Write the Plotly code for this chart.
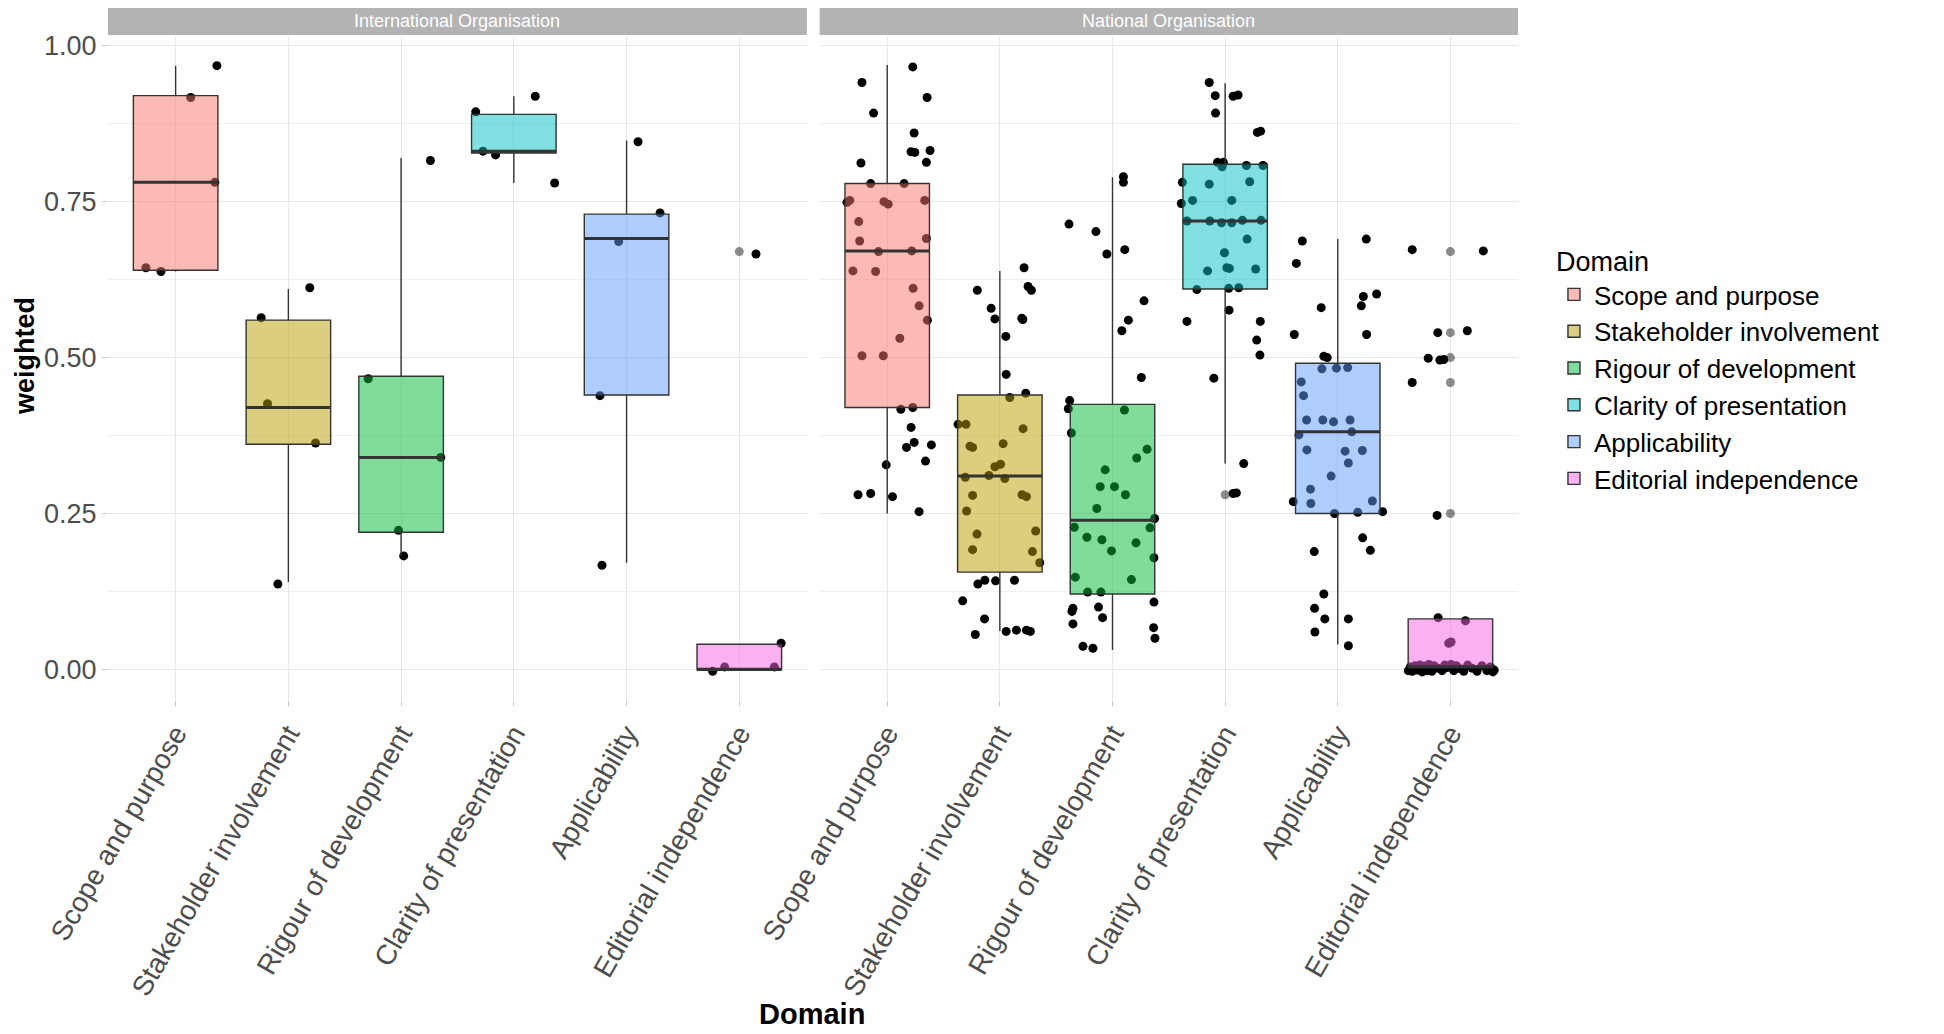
import plotly.graph_objects as go

FONT = "Liberation Sans, Arial, sans-serif"

domains = ["Scope and purpose", "Stakeholder involvement", "Rigour of development",
           "Clarity of presentation", "Applicability", "Editorial independence"]
fills = ["rgba(248,118,109,0.5)", "rgba(183,159,0,0.5)", "rgba(0,186,56,0.5)",
         "rgba(0,191,196,0.5)", "rgba(97,156,255,0.5)", "rgba(245,100,227,0.5)"]
facets = ["International Organisation", "National Organisation"]

# ---- International Organisation: box statistics
intl_q1 = [0.640, 0.361, 0.220, 0.828, 0.440, 0.000]
intl_median = [0.781, 0.420, 0.340, 0.831, 0.691, 0.000]
intl_q3 = [0.920, 0.560, 0.470, 0.890, 0.730, 0.0405]
intl_lower = [0.638, 0.140, 0.182, 0.780, 0.171, 0.000]
intl_upper = [0.968, 0.610, 0.820, 0.919, 0.848, 0.0405]
intl_outliers = [[], [], [], [], [], [0.670]]

# jittered points: weighted score and horizontal jitter (category units)
intl_y = [
    [0.968, 0.917, 0.781, 0.644, 0.638],
    [0.612, 0.564, 0.426, 0.363, 0.137],
    [0.816, 0.466, 0.340, 0.223, 0.182],
    [0.919, 0.894, 0.831, 0.825, 0.780],
    [0.846, 0.732, 0.686, 0.439, 0.167],
    [0.666, 0.042, -0.003, 0.004, 0.004],
]
intl_jitter = [
    [0.366, 0.134, 0.348, -0.264, -0.130],
    [0.190, -0.241, -0.185, 0.241, -0.093],
    [0.260, -0.292, 0.352, -0.023, 0.023],
    [0.190, -0.338, -0.274, -0.162, 0.362],
    [0.102, 0.297, -0.070, -0.236, -0.218],
    [0.148, 0.371, -0.236, -0.130, 0.311],
]

# ---- National Organisation
nat_q1 = [0.420, 0.156, 0.121, 0.610, 0.250, 0.004]
nat_median = [0.671, 0.310, 0.239, 0.719, 0.381, 0.004]
nat_q3 = [0.779, 0.440, 0.425, 0.810, 0.491, 0.081]
nat_lower = [0.250, 0.0615, 0.031, 0.330, 0.040, 0.004]
nat_upper = [0.969, 0.639, 0.789, 0.940, 0.690, 0.081]
nat_outliers = [[], [], [], [0.280], [], [0.670, 0.540, 0.500, 0.460, 0.250]]

nat_y = [
    [0.966, 0.941, 0.917, 0.892, 0.860, 0.830, 0.829, 0.832, 0.812, 0.813, 0.779, 0.779, 0.749, 0.752,
     0.750, 0.746, 0.752, 0.718, 0.687, 0.691, 0.670, 0.671, 0.639, 0.638, 0.611, 0.583, 0.560, 0.531,
     0.503, 0.503, 0.417, 0.420, 0.388, 0.356, 0.364, 0.360, 0.328, 0.334, 0.280, 0.282, 0.277, 0.253],
    [0.644, 0.608, 0.614, 0.608, 0.579, 0.562, 0.563, 0.561, 0.534, 0.473, 0.436, 0.443, 0.393, 0.393,
     0.386, 0.358, 0.356, 0.362, 0.325, 0.329, 0.308, 0.311, 0.306, 0.279, 0.280, 0.277, 0.254, 0.217,
     0.222, 0.192, 0.189, 0.171, 0.137, 0.143, 0.142, 0.143, 0.110, 0.081, 0.056, 0.061, 0.063, 0.063, 0.061],
    [0.790, 0.781, 0.714, 0.702, 0.666, 0.673, 0.591, 0.560, 0.543, 0.468, 0.431, 0.418, 0.416, 0.379,
     0.353, 0.339, 0.320, 0.293, 0.293, 0.280, 0.258, 0.242, 0.228, 0.227, 0.212, 0.208, 0.190, 0.203,
     0.179, 0.148, 0.144, 0.124, 0.124, 0.108, 0.098, 0.093, 0.100, 0.083, 0.073, 0.067, 0.050, 0.037, 0.034],
    [0.941, 0.920, 0.919, 0.921, 0.892, 0.861, 0.863, 0.813, 0.813, 0.806, 0.808, 0.808, 0.781, 0.778,
     0.782, 0.747, 0.752, 0.752, 0.719, 0.719, 0.716, 0.716, 0.720, 0.720, 0.690, 0.668, 0.639, 0.644,
     0.643, 0.642, 0.609, 0.611, 0.612, 0.576, 0.558, 0.558, 0.528, 0.504, 0.467, 0.330, 0.282, 0.283],
    [0.687, 0.690, 0.651, 0.598, 0.602, 0.583, 0.580, 0.537, 0.537, 0.502, 0.500, 0.482, 0.483, 0.484,
     0.461, 0.439, 0.400, 0.400, 0.397, 0.400, 0.376, 0.381, 0.352, 0.350, 0.351, 0.331, 0.310, 0.289,
     0.269, 0.266, 0.270, 0.250, 0.252, 0.253, 0.211, 0.189, 0.191, 0.121, 0.098, 0.081, 0.081, 0.060, 0.038],
    [0.673, 0.671, 0.540, 0.543, 0.499, 0.496, 0.497, 0.460, 0.247, 0.083, 0.078, 0.042, 0.044,
     -0.002, 0.004, -0.003, 0.006, -0.001, 0.007, -0.004, 0.005, -0.002, 0.008, -0.003, 0.006, 0.002,
     -0.002, 0.007, 0.003, 0.008, -0.002, 0.006, 0.001, -0.003, 0.007, 0.002, -0.003, 0.006, -0.002,
     0.004, -0.004, -0.001],
]
nat_jitter = [
    [0.227, -0.224, 0.354, -0.121, 0.239, 0.212, 0.245, 0.380, -0.233, 0.348, -0.147, 0.150, -0.357, -0.333,
     -0.029, 0.009, 0.333, -0.253, -0.245, 0.348, -0.077, 0.218, -0.304, -0.103, 0.230, 0.283, 0.357, 0.112,
     -0.224, -0.035, 0.121, 0.227, 0.212, 0.171, 0.239, 0.392, -0.009, 0.340, -0.259, -0.147, 0.047, 0.283],
    [0.215, -0.200, 0.251, 0.280, -0.077, -0.044, 0.195, 0.204, 0.053, 0.056, 0.088, 0.230, -0.371, -0.301,
     0.206, -0.265, -0.242, 0.029, -0.044, 0.006, -0.307, -0.097, 0.044, -0.242, 0.197, 0.236, -0.295, -0.203,
     0.318, -0.242, 0.289, 0.354, -0.195, -0.133, -0.038, 0.130, -0.330, -0.136, -0.218, 0.056, 0.147, 0.236, 0.271],
    [0.097, 0.097, -0.386, -0.147, -0.050, 0.109, 0.280, 0.141, 0.083, 0.256, -0.380, -0.392, 0.106, -0.365,
     0.307, 0.215, -0.065, -0.109, 0.018, 0.115, -0.139, 0.374, -0.339, 0.333, -0.227, -0.094, -0.009, 0.209,
     0.368, -0.330, 0.168, -0.221, -0.103, 0.368, -0.351, -0.360, -0.124, -0.088, -0.351, 0.365, 0.377, -0.262, -0.174],
    [-0.141, -0.088, 0.071, 0.115, -0.085, 0.286, 0.315, -0.068, -0.015, -0.027, 0.189, 0.336, -0.380, -0.141,
     0.218, -0.389, -0.289, 0.059, -0.339, -0.136, -0.032, 0.059, 0.153, 0.318, 0.195, -0.006, -0.156, 0.015,
     0.038, 0.271, -0.251, 0.032, 0.121, 0.035, -0.339, 0.312, 0.280, 0.309, -0.100, 0.165, 0.071, 0.100],
    [-0.315, 0.253, -0.368, 0.227, 0.345, 0.209, -0.147, -0.386, 0.256, -0.124, -0.094, -0.141, -0.012, 0.088,
     -0.324, -0.304, -0.277, -0.133, -0.038, 0.109, -0.345, 0.124, -0.274, 0.065, 0.218, 0.094, -0.059, -0.242,
     -0.395, -0.239, 0.307, -0.029, 0.177, 0.398, 0.221, -0.209, 0.289, -0.124, -0.206, -0.115, 0.094, -0.203, 0.094],
    [-0.339, 0.292, -0.112, 0.150, -0.197, -0.094, -0.059, -0.339, -0.118, -0.109, 0.133, -0.015, 0.006,
     -0.374, -0.356, -0.339, -0.312, -0.295, -0.270, -0.251, -0.230, -0.205, -0.192, -0.165, -0.147, -0.112,
     -0.074, -0.050, -0.029, 0.006, 0.030, 0.053, 0.088, 0.118, 0.153, 0.192, 0.236, 0.280, 0.324, 0.354,
     0.377, 0.389],
]

BOX_W = 0.75
panels = [
    ("x", "y", intl_q1, intl_median, intl_q3, intl_lower, intl_upper, intl_outliers, intl_y, intl_jitter),
    ("x2", "y2", nat_q1, nat_median, nat_q3, nat_lower, nat_upper, nat_outliers, nat_y, nat_jitter),
]

fig = go.Figure()

for p, (xa, ya, q1, med, q3, lo, hi, outl, ys, jit) in enumerate(panels):
    for i, dom in enumerate(domains):
        pos = i + 1
        # jittered points (drawn below the semi-transparent boxes)
        fig.add_trace(go.Scatter(
            x=[pos + d for d in jit[i]], y=ys[i], mode="markers",
            marker=dict(color="black", size=9, line=dict(width=0)),
            xaxis=xa, yaxis=ya, showlegend=False, hoverinfo="skip", zorder=0,
        ))
        fig.add_trace(go.Box(
            x=[pos], q1=[q1[i]], median=[med[i]], q3=[q3[i]],
            lowerfence=[lo[i]], upperfence=[hi[i]],
            orientation="v", width=BOX_W, whiskerwidth=0, boxpoints=False,
            fillcolor=fills[i], line=dict(color="#333333", width=1.4),
            name=dom, showlegend=(p == 0), xaxis=xa, yaxis=ya, zorder=1,
        ))
        # thicker median bar, as in ggplot
        fig.add_trace(go.Scatter(
            x=[pos - BOX_W / 2, pos + BOX_W / 2], y=[med[i], med[i]], mode="lines",
            line=dict(color="#333333", width=3), xaxis=xa, yaxis=ya,
            showlegend=False, hoverinfo="skip", zorder=1,
        ))
        if outl[i]:
            fig.add_trace(go.Scatter(
                x=[pos] * len(outl[i]), y=outl[i], mode="markers",
                marker=dict(color="rgba(0,0,0,0.45)", size=9, line=dict(width=0)),
                xaxis=xa, yaxis=ya, showlegend=False, hoverinfo="skip", zorder=2,
            ))

xcommon = dict(
    range=[0.4, 6.6], tickvals=list(range(1, 7)), ticktext=domains, tickangle=-60,
    tickfont=dict(family=FONT, size=28, color="#4D4D4D"),
    showgrid=True, gridcolor="#E6E6E6", gridwidth=1, zeroline=False,
    showline=True, mirror=True, linecolor="#C8C8C8", linewidth=1.3,
    ticks="outside", ticklen=5, tickcolor="#C8C8C8",
)
ycommon = dict(
    range=[-0.049, 1.014], tick0=0, dtick=0.25, tickformat=".2f",
    showgrid=True, gridcolor="#E6E6E6", gridwidth=1, zeroline=False,
    minor=dict(dtick=0.125, showgrid=True, gridcolor="#F0F0F0", gridwidth=1),
    showline=True, mirror=True, linecolor="#C8C8C8", linewidth=1.3,
)

D1 = [0.0, 0.4957]
D2 = [0.5047, 1.0]

# the page adds an 8 px body margin, so the figure is 8 px smaller on each axis
fig.update_layout(
    width=1936, height=1026,
    margin=dict(l=100, r=426, t=29, b=334),
    paper_bgcolor="white", plot_bgcolor="white",
    font=dict(family=FONT, color="black"),
    xaxis=dict(domain=D1, anchor="y", **xcommon),
    xaxis2=dict(domain=D2, anchor="y2", **xcommon),
    yaxis=dict(domain=[0, 1], anchor="x", ticks="outside", ticklen=5, tickcolor="#C8C8C8",
               tickfont=dict(family=FONT, size=27, color="#4D4D4D"), **ycommon),
    yaxis2=dict(domain=[0, 1], anchor="x2", matches="y", showticklabels=False, ticks="", **ycommon),
    legend=dict(
        x=1.0255, xanchor="left", y=0.70, yanchor="top",
        title=dict(text="Domain", font=dict(family=FONT, size=27, color="black")),
        font=dict(family=FONT, size=26, color="black"),
        bgcolor="rgba(0,0,0,0)", tracegroupgap=0,
    ),
    showlegend=True,
)

# facet strips
for dom_range, label in zip([D1, D2], facets):
    fig.add_shape(type="rect", xref="paper", yref="paper",
                  x0=dom_range[0], x1=dom_range[1], y0=1.003, y1=1.0437,
                  fillcolor="#B3B3B3", line=dict(width=0), layer="above")
    fig.add_annotation(x=(dom_range[0] + dom_range[1]) / 2, y=1.0235, xref="paper", yref="paper",
                       text=label, showarrow=False, xanchor="center", yanchor="middle",
                       font=dict(family=FONT, size=18, color="white"))

# y title: left edge of its box sits on the left edge of the figure
fig.add_annotation(x=-100 / 1410, y=0.519, xref="paper", yref="paper", text="<b>weighted</b>",
                   textangle=-90, showarrow=False, xanchor="left", yanchor="middle",
                   font=dict(family=FONT, size=27, color="black"))
fig.add_annotation(x=0.499, y=-0.474, xref="paper", yref="paper", text="<b>Domain</b>",
                   showarrow=False, xanchor="center", yanchor="middle",
                   font=dict(family=FONT, size=29, color="black"))

fig.write_html("out.html")
